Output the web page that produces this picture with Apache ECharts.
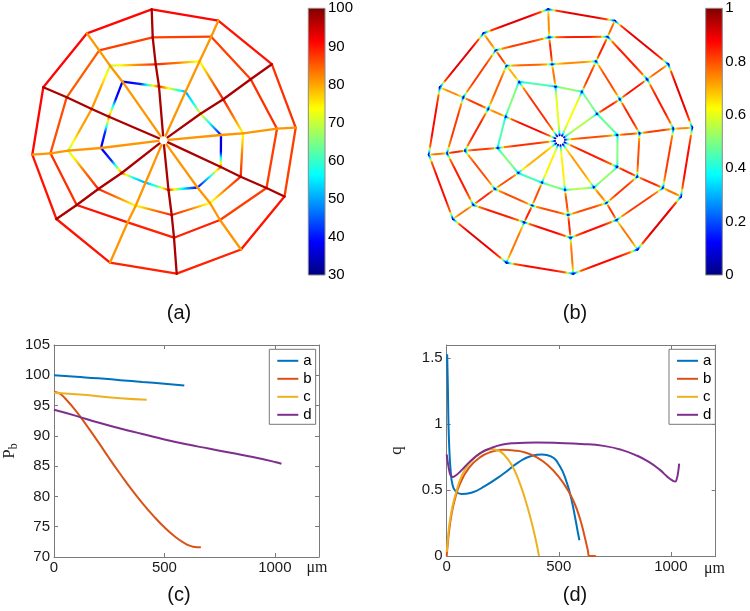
<!DOCTYPE html>
<html><head><meta charset="utf-8">
<script src="https://cdn.jsdelivr.net/npm/echarts@6/dist/echarts.min.js"></script>
<style>html,body{margin:0;padding:0;background:#fff}#c{width:750px;height:611px}</style>
</head><body><div id="c"></div><script>
// ---------- network geometry (node positions relative to hub, y up) ----------
const spokeNames = ['N','NNE','ENE','E','ESE','SSE','S','SSW','WSW','W','WNW','NNW'];
const ring1X = [-4.5, 22, 37, 57.5, 57.3, 34, 5, -18, -41.8, -62.5, -54.5, -41];
const ring1Y = [53.8, 48.6, 26.5, 5.3, -26.7, -47.2, -49.7, -42.4, -32.7, -7.7, 23.6, 58.6];
const ring2X = [-7.8, 36.1, 59.8, 79.5, 77.2, 46.5, 8.2, -27.8, -65.2, -95.2, -71.8, -53.5];
const ring2Y = [76, 79, 41, 7, -36.4, -62.7, -74.7, -65.4, -48.7, -10.4, 31.3, 74.6];
const ring3X = [-10.8, 47.7, 87.2, 113.5, 103, 56.5, 10.5, -35.8, -86.8, -113, -96.8, -64.3];
const ring3Y = [103, 103.6, 61, 11.6, -47.7, -79.7, -97.4, -82, -64.7, -13, 43, 90];
const ring4X = [-11.8, 54.8, 108.3, 132.2, 121, 77.5, 13.2, -53.5, -107.1, -131.2, -120.2, -76.5];
const ring4Y = [131, 119.6, 76.1, 12.6, -56.2, -109.2, -133.4, -122.4, -78.7, -14.4, 53, 107];
const hubGap = 5;

// ---------- panel (a): pressure p_b (30..100) ----------
const spokePA    = [97, 81, 97, 81, 97, 81, 97, 81, 97, 81, 97, 81];
const ring1NodePA = [88, 50, 74, 38, 85, 38, 88, 50, 85, 37, 85, 36];
const ring1MidPA  = [68, 56, 55, 36, 55, 55, 62, 56, 42, 42, 40, 42];
const ring2NodePA = [89, 72, 89, 73, 89, 72, 89, 73, 89, 69, 81, 69];
const ring2MidPA  = [83, 83, 83, 83, 83, 83, 83, 83, 83, 80, 79, 80];
const ring3SegPA  = [87, 87, 88, 87, 87, 89, 89, 90, 88, 86, 85, 87];
const ring4SegPA  = [91, 90, 88, 87, 90, 89, 89, 90, 90, 91, 91, 91];

// ---------- panel (b): normalised flow (0..1), value at edge middle ----------
const spoke1QB = [0.6, 0.62, 0.55, 0.8, 0.85, 0.72, 0.64, 0.64, 0.7, 0.83, 0.87, 0.83];
const spoke2QB = [0.76, 0.82, 0.84, 0.8, 0.84, 0.74, 0.8, 0.8, 0.8, 0.82, 0.74, 0.7];
const spoke3QB = [0.84, 0.84, 0.86, 0.82, 0.84, 0.82, 0.84, 0.84, 0.84, 0.84, 0.82, 0.82];
const spoke4QB = [0.74, 0.78, 0.78, 0.74, 0.76, 0.76, 0.76, 0.76, 0.76, 0.76, 0.74, 0.74];
const ring1QB = [0.52, 0.5, 0.48, 0.5, 0.52, 0.55, 0.5, 0.45, 0.5, 0.45, 0.5, 0.45];
const ring2QB = [0.74, 0.8, 0.84, 0.8, 0.82, 0.8, 0.8, 0.8, 0.8, 0.84, 0.78, 0.78];
const ring3QB = [0.85, 0.85, 0.85, 0.82, 0.82, 0.86, 0.87, 0.85, 0.85, 0.82, 0.82, 0.82];
const ring4QB = [0.9, 0.9, 0.9, 0.87, 0.9, 0.87, 0.87, 0.9, 0.87, 0.87, 0.9, 0.9];
const nodeQB = 0.06, nearQB = 0.32, shoulderQB = 0.9;

// vessel labels in (a)
const webLabelText = ['a', 'b', 'c', 'd'];
const webLabelX = [23.2, 45.8, -9.2, 21.5];
const webLabelY = [15.3, 60.3, 88.6, 125.3];

// ---------- panel (c): p_b along vessels (x in µm) ----------
const pA = [[0,100],[100,99.75],[200,99.5],[300,99.2],[400,98.9],[500,98.6],[590,98.3]];
const pB = [[0,97.3],[25,97.0],[50,96.2],[100,94.1],[150,91.6],[200,89.0],[250,86.3],[300,83.7],[350,81.2],[400,78.9],[450,76.8],[500,74.9],[550,73.3],[600,72.1],[630,71.7],[665,71.6]];
const pC = [[0,97.1],[100,96.85],[200,96.55],[300,96.2],[420,95.95]];
const pD = [[0,94.3],[100,93.3],[200,92.2],[300,91.2],[400,90.3],[500,89.4],[600,88.6],[700,87.9],[800,87.2],[900,86.5],[1000,85.7],[1030,85.4]];

// ---------- panel (d): q along vessels ----------
const qA = [[2,1.53],[5,1.3],[8,1.0],[12,0.8],[18,0.64],[26,0.54],[40,0.49],[65,0.47],[110,0.48],[170,0.53],[250,0.62],[320,0.71],[380,0.76],[425,0.77],[465,0.755],[505,0.68],[535,0.56],[555,0.44],[572,0.3],[585,0.18],[592,0.12]];
const qB = [[0,0],[3,0.06],[10,0.18],[20,0.3],[35,0.42],[60,0.55],[100,0.67],[150,0.75],[200,0.79],[250,0.805],[300,0.8],[350,0.785],[400,0.75],[450,0.69],[500,0.6],[540,0.5],[570,0.4],[595,0.28],[615,0.15],[630,0.04],[636,0],[665,0]];
const qC = [[0,0.03],[5,0.12],[12,0.24],[25,0.37],[40,0.47],[65,0.6],[100,0.7],[150,0.78],[195,0.81],[230,0.8],[260,0.76],[290,0.69],[320,0.58],[350,0.43],[375,0.28],[395,0.14],[412,0]];
const qD = [[0,0.77],[4,0.72],[10,0.66],[18,0.61],[28,0.6],[40,0.61],[60,0.64],[100,0.71],[150,0.78],[200,0.82],[250,0.845],[300,0.855],[400,0.86],[500,0.857],[600,0.85],[700,0.835],[780,0.805],[850,0.76],[900,0.715],[950,0.655],[985,0.6],[1010,0.57],[1020,0.565],[1027,0.59],[1032,0.63],[1037,0.7]];

const seriesNames = ['a', 'b', 'c', 'd'];
const seriesColors = ['#0072BD', '#D95319', '#EDB120', '#7E2F8E'];

// ---------- helpers ----------
const FONT = 'Liberation Sans, Arial, Helvetica, sans-serif';
const SERIF = 'Liberation Serif, Times New Roman, serif';
const AX = '#7a7a7a';
function clamp01(x){ return Math.max(0, Math.min(1, x)); }
function jet(t){
  t = clamp01(t);
  const r = clamp01(1.5 - Math.abs(4*t - 3)), g = clamp01(1.5 - Math.abs(4*t - 2)), b = clamp01(1.5 - Math.abs(4*t - 1));
  return 'rgb(' + Math.round(r*255) + ',' + Math.round(g*255) + ',' + Math.round(b*255) + ')';
}
function sampleProfile(p, u){
  for (let j = 1; j < p.length; j++) {
    if (u <= p[j][0]) {
      const p0 = p[j-1][0], v0 = p[j-1][1], p1 = p[j][0], v1 = p[j][1];
      const w = p1 > p0 ? (u - p0) / (p1 - p0) : 0;
      return v0 + (v1 - v0) * w;
    }
  }
  return p[p.length-1][1];
}
const rings = [[ring1X, ring1Y], [ring2X, ring2Y], [ring3X, ring3Y], [ring4X, ring4Y]];
function buildWeb(spokeProf, ringProf){
  const data = [], prof = [];
  for (let k = 0; k < 4; k++) {
    const rx = rings[k][0], ry = rings[k][1];
    for (let i = 0; i < 12; i++) {
      const j = (i + 1) % 12;
      data.push([rx[i], ry[i], rx[j], ry[j]]);
      prof.push(ringProf(k, i));
    }
  }
  for (let i = 0; i < 12; i++) {
    const L = Math.hypot(ring1X[i], ring1Y[i]);
    const pts = [[ring1X[i] / L * hubGap, ring1Y[i] / L * hubGap]].concat(rings.map(r => [r[0][i], r[1][i]]));
    for (let s = 0; s < 4; s++) {
      data.push([pts[s][0], pts[s][1], pts[s+1][0], pts[s+1][1]]);
      prof.push(spokeProf(s, i));
    }
  }
  return {data, prof};
}
const webA = buildWeb(
  (s, i) => [[0, spokePA[i]], [1, spokePA[i]]],
  (k, i) => {
    const j = (i + 1) % 12;
    if (k === 0) return [[0, ring1NodePA[i]], [0.5, ring1MidPA[i]], [1, ring1NodePA[j]]];
    if (k === 1) return [[0, ring2NodePA[i]], [0.5, ring2MidPA[i]], [1, ring2NodePA[j]]];
    const v = (k === 2 ? ring3SegPA : ring4SegPA)[i];
    return [[0, v], [1, v]];
  });
function qbProfile(m){
  return [[0, nodeQB], [0.04, nearQB], [0.12, shoulderQB * m], [0.3, m], [0.7, m], [0.88, shoulderQB * m], [0.96, nearQB], [1, nodeQB]];
}
const spokeQB = [spoke1QB, spoke2QB, spoke3QB, spoke4QB];
const ringQB = [ring1QB, ring2QB, ring3QB, ring4QB];
const webB = buildWeb((s, i) => qbProfile(spokeQB[s][i]), (k, i) => qbProfile(ringQB[k][i]));

function edgeRenderer(web, vmin, vmax, width){
  return function(params, api){
    const p = web.prof[params.dataIndex];
    const a = api.coord([api.value(0), api.value(1)]);
    const b = api.coord([api.value(2), api.value(3)]);
    const stops = [];
    const N = 50;
    for (let n = 0; n <= N; n++) {
      const u = n / N;
      stops.push({offset: u, color: jet((sampleProfile(p, u) - vmin) / (vmax - vmin))});
    }
    return {
      type: 'line',
      shape: {x1: a[0], y1: a[1], x2: b[0], y2: b[1]},
      style: {stroke: new echarts.graphic.LinearGradient(a[0], a[1], b[0], b[1], stops, true), lineWidth: width, lineCap: 'round'}
    };
  };
}
function cbarRenderer(params, api){
  const lo = api.coord([0, api.value(1)]);
  const hi = api.coord([1, api.value(2)]);
  const stops = [];
  for (let n = 0; n <= 64; n++) stops.push({offset: n / 64, color: jet(1 - n / 64)});
  return {
    type: 'rect',
    shape: {x: lo[0], y: hi[1], width: hi[0] - lo[0], height: lo[1] - hi[1]},
    style: {fill: new echarts.graphic.LinearGradient(0, 0, 0, 1, stops), stroke: '#8a8a8a', lineWidth: 1}
  };
}

function hiddenAxis(gi, min, max){ return {type: 'value', gridIndex: gi, min, max, show: false}; }
function plotX(gi, pos, labels){
  return {type: 'value', gridIndex: gi, position: pos, min: 0, max: 1200, interval: 500,
    axisLine: {show: true, onZero: false, lineStyle: {color: AX, width: 1}},
    axisTick: {show: true, inside: true, length: 4, lineStyle: {color: AX}},
    axisLabel: {show: labels, fontSize: 15, color: '#1a1a1a', fontFamily: FONT, margin: 3, showMaxLabel: false, formatter: v => String(v)},
    splitLine: {show: false}};
}
function plotY(gi, pos, labels, min, max, interval, showMax, extra){
  return Object.assign({type: 'value', gridIndex: gi, position: pos, min, max, interval,
    axisLine: {show: true, onZero: false, lineStyle: {color: AX, width: 1}},
    axisTick: {show: true, inside: true, length: 4, lineStyle: {color: AX}},
    axisLabel: {show: labels, fontSize: 15, color: '#1a1a1a', fontFamily: FONT, margin: 4, showMaxLabel: showMax, showMinLabel: true},
    splitLine: {show: false}}, extra || {});
}
function cbarY(gi, min, max, interval){
  return {type: 'value', gridIndex: gi, position: 'right', min, max, interval,
    axisLine: {show: false}, axisTick: {show: false}, splitLine: {show: false},
    axisLabel: {fontSize: 15, color: '#000', fontFamily: FONT, margin: 3}};
}
function lineSeries(k, data, xi, yi){
  return {type: 'line', name: seriesNames[k], data, xAxisIndex: xi, yAxisIndex: yi,
    showSymbol: false, symbol: 'none', smooth: 0.5,
    lineStyle: {width: 2, color: seriesColors[k]}, itemStyle: {color: seriesColors[k]}, z: 3};
}
function legendAt(left, top){
  return {data: seriesNames, orient: 'vertical', left, top, icon: 'rect', itemWidth: 21, itemHeight: 2,
    itemGap: 3, padding: [4, 4, 2, 8], borderColor: '#777', borderWidth: 1, backgroundColor: '#fff',
    textStyle: {fontSize: 15, color: '#000', fontFamily: FONT, lineHeight: 15}, selectedMode: false};
}

const chart = echarts.init(document.getElementById('c'), null, {renderer: 'canvas', width: 750, height: 611});
chart.setOption({
  animation: false,
  backgroundColor: '#fff',
  grid: [
    {left: 23.5, top: 0.3, width: 280, height: 280},
    {left: 420, top: 0.3, width: 280, height: 280},
    {left: 308.3, top: 8.3, width: 16.7, height: 266.7},
    {left: 705.7, top: 8.3, width: 16.6, height: 266.7},
    {left: 50, top: 345, width: 269, height: 212},
    {left: 446.7, top: 345, width: 269, height: 211}
  ],
  xAxis: [hiddenAxis(0, -140, 140), hiddenAxis(1, -140, 140), hiddenAxis(2, 0, 1), hiddenAxis(3, 0, 1),
    plotX(4, 'bottom', true), plotX(4, 'top', false), plotX(5, 'bottom', true), plotX(5, 'top', false)],
  yAxis: [hiddenAxis(0, -140, 140), hiddenAxis(1, -140, 140), cbarY(2, 30, 100, 10), cbarY(3, 0, 1, 0.2),
    plotY(4, 'left', true, 70, 105, 5, true, {name: '{p|P}{s|b}', nameLocation: 'middle', nameRotate: 90, nameGap: 34,
      nameTextStyle: {rich: {p: {fontFamily: SERIF, fontSize: 17, color: '#222'}, s: {fontFamily: SERIF, fontSize: 12, color: '#222', padding: [9, 0, 0, 0]}}}}),
    plotY(4, 'right', false, 70, 105, 5, true),
    plotY(5, 'left', true, 0, 1.6, 0.5, false, {name: 'q', nameLocation: 'middle', nameRotate: 90, nameGap: 42,
      nameTextStyle: {fontFamily: SERIF, fontSize: 17, color: '#222'}}),
    plotY(5, 'right', false, 0, 1.6, 0.5, false)],
  legend: [legendAt(269.3, 349.3), legendAt(669, 349.3)],
  series: [
    {type: 'custom', xAxisIndex: 0, yAxisIndex: 0, data: webA.data, encode: {x: [0, 2], y: [1, 3]}, renderItem: edgeRenderer(webA, 30, 100, 2.3), silent: true},
    {type: 'custom', xAxisIndex: 1, yAxisIndex: 1, data: webB.data, encode: {x: [0, 2], y: [1, 3]}, renderItem: edgeRenderer(webB, 0, 1, 2), silent: true},
    {type: 'custom', xAxisIndex: 2, yAxisIndex: 2, data: [[0.5, 30, 100]], encode: {x: 0, y: [1, 2]}, renderItem: cbarRenderer, silent: true},
    {type: 'custom', xAxisIndex: 3, yAxisIndex: 3, data: [[0.5, 0, 1]], encode: {x: 0, y: [1, 2]}, renderItem: cbarRenderer, silent: true},
    {type: 'scatter', name: 'vessel labels', xAxisIndex: 0, yAxisIndex: 0, symbolSize: 1, itemStyle: {opacity: 0},
      data: webLabelText.map((t, i) => [webLabelX[i], webLabelY[i], i]), z: 5,
      label: {show: true, position: 'inside', formatter: p => webLabelText[p.value[2]], fontSize: 16, color: '#111', fontFamily: FONT}},
    lineSeries(0, pA, 4, 4), lineSeries(1, pB, 4, 4), lineSeries(2, pC, 4, 4), lineSeries(3, pD, 4, 4),
    lineSeries(0, qA, 6, 6), lineSeries(1, qB, 6, 6), lineSeries(2, qC, 6, 6), lineSeries(3, qD, 6, 6)
  ],
  graphic: [
    {type: 'text', x: 179, y: 313, style: {text: '(a)', fontSize: 20, fontFamily: FONT, fill: '#111', align: 'center', verticalAlign: 'middle'}},
    {type: 'text', x: 575, y: 313, style: {text: '(b)', fontSize: 20, fontFamily: FONT, fill: '#111', align: 'center', verticalAlign: 'middle'}},
    {type: 'text', x: 179, y: 595, style: {text: '(c)', fontSize: 20, fontFamily: FONT, fill: '#111', align: 'center', verticalAlign: 'middle'}},
    {type: 'text', x: 575, y: 595, style: {text: '(d)', fontSize: 20, fontFamily: FONT, fill: '#111', align: 'center', verticalAlign: 'middle'}},
    {type: 'text', x: 317, y: 568, style: {text: 'μm', fontSize: 16, fontFamily: SERIF, fill: '#222', align: 'center', verticalAlign: 'middle'}},
    {type: 'text', x: 714.5, y: 569, style: {text: 'μm', fontSize: 16, fontFamily: SERIF, fill: '#222', align: 'center', verticalAlign: 'middle'}}
  ]
});
</script></body></html>
